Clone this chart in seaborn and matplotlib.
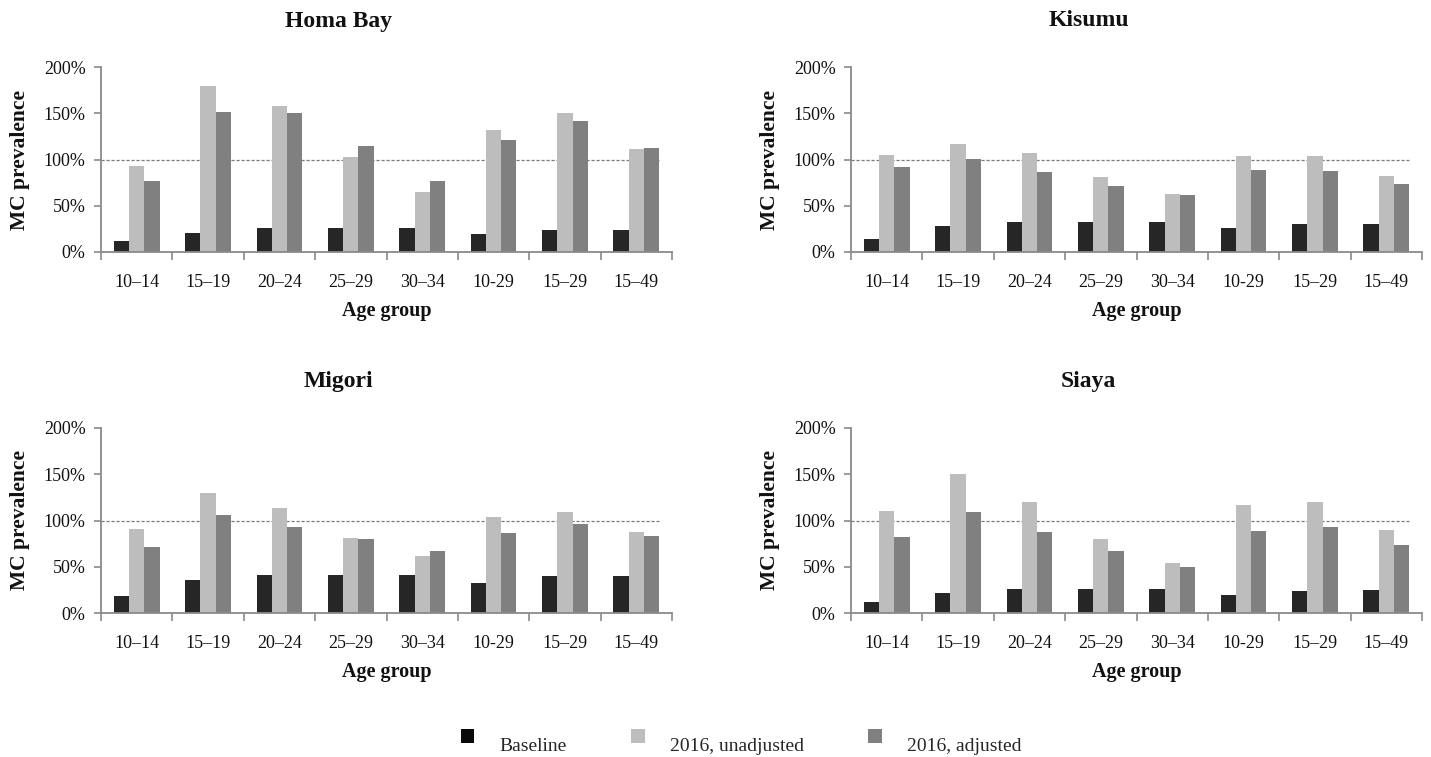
import matplotlib
matplotlib.use("Agg")
import matplotlib.pyplot as plt
from matplotlib.patches import Rectangle
from matplotlib.legend_handler import HandlerPatch
from matplotlib.ticker import FixedLocator, FuncFormatter
import seaborn as sns
import pandas as pd

# ---- data -------------------------------------------------------------
ages = ["10–14", "15–19", "20–24", "25–29", "30–34", "10-29", "15–29", "15–49"]
series_names = ["Baseline", "2016, unadjusted", "2016, adjusted"]
counties = ["Homa Bay", "Kisumu", "Migori", "Siaya"]

homa_bay_baseline = [12, 21, 26, 26, 26, 20, 23.5, 24]
homa_bay_unadjusted = [92.5, 179, 158, 102.5, 65, 132, 150, 111]
homa_bay_adjusted = [76.5, 151, 150, 115, 76.5, 121, 142, 112.5]

kisumu_baseline = [14.5, 28, 32.5, 32.5, 32.5, 26, 30, 30.5]
kisumu_unadjusted = [105, 117, 107, 81, 63, 103.5, 103.5, 82.5]
kisumu_adjusted = [92, 101, 86, 71, 62, 89, 88, 73.5]

migori_baseline = [18.5, 36, 41.5, 41.5, 41.5, 32.5, 39.5, 40.5]
migori_unadjusted = [91, 130, 113, 81, 62, 104, 109, 88]
migori_adjusted = [71, 106, 93.5, 80, 67.5, 87, 96, 83.5]

siaya_baseline = [12, 21.5, 26, 26, 26, 20, 23.5, 24.5]
siaya_unadjusted = [110.5, 150, 119.5, 80, 54, 117, 119.5, 90]
siaya_adjusted = [82, 109, 88, 67.5, 49.5, 89, 92.5, 73.5]

yticks = [0, 50, 100, 150, 200]
reference_level = 100

county_values = {
    "Homa Bay": (homa_bay_baseline, homa_bay_unadjusted, homa_bay_adjusted),
    "Kisumu": (kisumu_baseline, kisumu_unadjusted, kisumu_adjusted),
    "Migori": (migori_baseline, migori_unadjusted, migori_adjusted),
    "Siaya": (siaya_baseline, siaya_unadjusted, siaya_adjusted),
}

rows = []
for county, values in county_values.items():
    for name, vals in zip(series_names, values):
        for age, v in zip(ages, vals):
            rows.append({"county": county, "age": age, "series": name, "value": v})
df = pd.DataFrame(rows)

# ---- style ------------------------------------------------------------
sns.set_theme(style="white")
plt.rcParams["font.family"] = ["Liberation Serif", "DejaVu Serif"]

palette = {"Baseline": "#262626", "2016, unadjusted": "#bdbdbd",
           "2016, adjusted": "#808080"}
spine_color = "#8a8a8a"
text_color = "#111111"

W, H = 1431, 757
fig = plt.figure(figsize=(W / 100, H / 100), dpi=100)

# plot areas in pixel coordinates: (left, top, right, bottom)
boxes = {
    "Homa Bay": (101, 67, 672, 252),
    "Kisumu": (851, 67, 1422, 252),
    "Migori": (101, 428, 672, 613),
    "Siaya": (851, 428, 1422, 613),
}

for county in counties:
    l, t, r, b = boxes[county]
    ax = fig.add_axes([l / W, 1 - b / H, (r - l) / W, (b - t) / H])
    sub = df[df["county"] == county]
    sns.barplot(data=sub, x="age", y="value", hue="series", order=ages,
                hue_order=series_names, palette=palette, width=0.64,
                saturation=1, errorbar=None, linewidth=0, ax=ax, legend=True)
    ax.get_legend().remove()

    ax.set_xlim(-0.5, len(ages) - 0.5)
    ax.set_ylim(0, 200)

    # reference line at 100 %
    ax.plot([-0.5, len(ages) - 1 + 0.32], [reference_level, reference_level],
            color="#7a7a7a", lw=0.9, ls=(0, (2.5, 1.5)), zorder=0.5)

    for side in ("top", "right"):
        ax.spines[side].set_visible(False)
    for side in ("left", "bottom"):
        ax.spines[side].set_color(spine_color)
        ax.spines[side].set_linewidth(1.3)

    ax.yaxis.set_major_locator(FixedLocator(yticks))
    ax.yaxis.set_major_formatter(FuncFormatter(lambda v, p: f"{v:.0f}%"))
    ax.tick_params(axis="y", which="major", direction="out", length=5,
                   width=1.2, color=spine_color, pad=6, labelsize=13,
                   left=True, labelcolor=text_color)

    # category labels at centres, tick marks at category boundaries
    ax.set_xticks(range(len(ages)))
    ax.set_xticklabels(ages)
    ax.set_xticks([i - 0.5 for i in range(len(ages) + 1)], minor=True)
    ax.tick_params(axis="x", which="major", length=0, pad=16, labelsize=13,
                   labelcolor=text_color)
    ax.tick_params(axis="x", which="minor", direction="out", length=6,
                   width=1.2, color=spine_color, bottom=True)

    ax.set_xlabel("Age group", fontsize=14.5, fontweight="bold", color=text_color)
    ax.xaxis.set_label_coords(0.5, -0.265)
    ax.set_ylabel("MC prevalence", fontsize=15.5, fontweight="bold", color=text_color)
    ax.yaxis.set_label_coords(-0.125, 0.5)

    # chart title centred over the whole chart area
    fig.text((l + r) / 2 / W - 48 / W, 1 - (t - 46) / H, county,
             ha="center", va="center", fontsize=17, fontweight="bold",
             color=text_color)

# ---- shared legend ----------------------------------------------------
class RaisedSquare(HandlerPatch):
    def create_artists(self, legend, orig_handle, xdescent, ydescent, width,
                       height, fontsize, trans):
        p = Rectangle((-xdescent, -ydescent + 0.4 * fontsize), width, height,
                      facecolor=orig_handle.get_facecolor(), edgecolor="none",
                      transform=trans)
        return [p]

handles = [Rectangle((0, 0), 1, 1, facecolor=palette[s] if s != "Baseline" else "#0a0a0a")
           for s in series_names]
fig.legend(handles, series_names, loc="center",
           bbox_to_anchor=(741 / W, 1 - 746 / H), ncol=3, frameon=False,
           fontsize=14, handlelength=0.7, handleheight=0.7,
           handletextpad=1.3, columnspacing=3.3,
           handler_map={Rectangle: RaisedSquare()})

fig.savefig("out.png", dpi=100, facecolor="white")
